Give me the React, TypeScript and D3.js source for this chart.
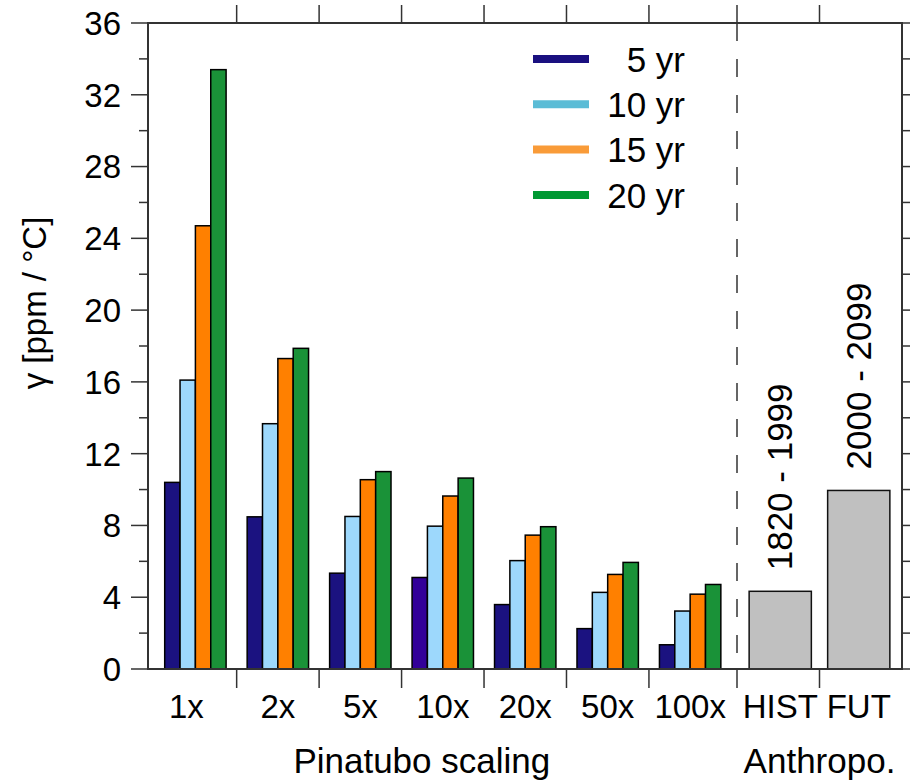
import * as d3 from "d3";
import { useEffect, useRef } from "react";

const groups = ["1x", "2x", "5x", "10x", "20x", "50x", "100x"];
const seriesKeys = ["yr5", "yr10", "yr15", "yr20"];
const seriesLabels = ["5 yr", "10 yr", "15 yr", "20 yr"];
const yr5 = [10.4, 8.48, 5.34, 5.1, 3.59, 2.25, 1.35];
const yr10 = [16.1, 13.67, 8.5, 7.96, 6.04, 4.27, 3.23];
const yr15 = [24.7, 17.3, 10.55, 9.64, 7.46, 5.27, 4.17];
const yr20 = [33.4, 17.87, 11.0, 10.64, 7.93, 5.94, 4.71];
const anthroCats = ["HIST", "FUT"];
const anthroValues = [4.33, 9.95];
const anthroPeriods = ["1820 - 1999", "2000 - 2099"];
const yTicks = [0, 4, 8, 12, 16, 20, 24, 28, 32, 36];

const barColors = ["#1b1280", "#9dd8fc", "#ff8000", "#1a9238"];
const legendColors = ["#1a1080", "#5bbcd6", "#f99b38", "#009933"];

function App() {
  const svgRef = useRef(null);

  useEffect(() => {
    const svg = d3.select(svgRef.current);
    svg.selectAll("*").remove();

    const font = "'Liberation Sans', Arial, sans-serif";
    const left = 148, right = 902, top = 23, bottom = 669, sep = 737;
    const axisColor = "#333";

    const y = d3.scaleLinear().domain([0, 36]).range([bottom, top]);
    const x0 = d3.scaleBand().domain(groups).range([154.2, 731.4]);
    const x1 = d3.scaleBand().domain(seriesKeys).range([10.5, 71.9]);
    const xa = d3.scaleBand().domain(anthroCats).range([sep, right])
      .paddingInner(0.2075).paddingOuter(0.1546);

    const series = [yr5, yr10, yr15, yr20];

    // pinatubo bars
    series.forEach((vals, si) => {
      svg.append("g").selectAll("rect")
        .data(vals)
        .join("rect")
        .attr("x", (d, i) => x0(groups[i]) + x1(seriesKeys[si]))
        .attr("y", d => y(d))
        .attr("width", x1.bandwidth())
        .attr("height", d => y(0) - y(d))
        .attr("fill", (d, i) => (si === 0 && groups[i] === "10x") ? "#330099" : barColors[si])
        .attr("stroke", "#000")
        .attr("stroke-width", 1.5);
    });

    // anthropogenic bars
    svg.append("g").selectAll("rect")
      .data(anthroValues)
      .join("rect")
      .attr("x", (d, i) => xa(anthroCats[i]))
      .attr("y", d => y(d))
      .attr("width", xa.bandwidth())
      .attr("height", d => y(0) - y(d))
      .attr("fill", "#c0c0c0")
      .attr("stroke", "#111")
      .attr("stroke-width", 1.5);

    svg.append("g").selectAll("text")
      .data(anthroValues)
      .join("text")
      .attr("transform", (d, i) =>
        `translate(${xa(anthroCats[i]) + xa.bandwidth() / 2 + 12},${y(d) - 21}) rotate(-90)`)
      .attr("font-family", font)
      .attr("font-size", 35)
      .text((d, i) => anthroPeriods[i]);

    // dashed separator
    svg.append("line")
      .attr("x1", sep).attr("x2", sep)
      .attr("y1", top).attr("y2", bottom)
      .attr("stroke", axisColor)
      .attr("stroke-width", 1.5)
      .attr("stroke-dasharray", "18,18");

    // frame
    svg.append("rect")
      .attr("x", left).attr("y", top)
      .attr("width", right - left).attr("height", bottom - top)
      .attr("fill", "none")
      .attr("stroke", axisColor)
      .attr("stroke-width", 2);

    // y ticks, left and right
    const allY = d3.range(0, 37, 2);
    svg.append("g").selectAll("line")
      .data(allY)
      .join("line")
      .attr("x1", d => left - (d % 4 === 0 ? 17 : 9))
      .attr("x2", left)
      .attr("y1", d => y(d)).attr("y2", d => y(d))
      .attr("stroke", axisColor).attr("stroke-width", 1.5);
    svg.append("g").selectAll("line")
      .data(allY)
      .join("line")
      .attr("x1", right)
      .attr("x2", right + 10)
      .attr("y1", d => y(d)).attr("y2", d => y(d))
      .attr("stroke", axisColor).attr("stroke-width", 1.5);

    svg.append("g").selectAll("text")
      .data(yTicks)
      .join("text")
      .attr("x", 121)
      .attr("y", d => y(d))
      .attr("dy", "0.36em")
      .attr("text-anchor", "end")
      .attr("font-family", font)
      .attr("font-size", 33)
      .text(d => d);

    // x ticks (category boundaries), top and bottom
    const xBounds = groups.slice(1).map(g => x0(g))
      .concat([sep, xa("FUT") - xa.step() * xa.paddingInner() / 2]);
    svg.append("g").selectAll("line")
      .data(xBounds)
      .join("line")
      .attr("x1", d => d).attr("x2", d => d)
      .attr("y1", top - 18).attr("y2", top)
      .attr("stroke", axisColor).attr("stroke-width", 1.5);
    svg.append("g").selectAll("line")
      .data(xBounds)
      .join("line")
      .attr("x1", d => d).attr("x2", d => d)
      .attr("y1", bottom).attr("y2", bottom + 19)
      .attr("stroke", axisColor).attr("stroke-width", 1.5);

    // x labels
    svg.append("g").selectAll("text")
      .data(groups)
      .join("text")
      .attr("x", d => x0(d) + x0.bandwidth() / 2 - (d === "1x" ? 9 : 0))
      .attr("y", 718)
      .attr("text-anchor", "middle")
      .attr("font-family", font)
      .attr("font-size", 33)
      .text(d => d);
    svg.append("g").selectAll("text")
      .data(anthroCats)
      .join("text")
      .attr("x", d => xa(d) + xa.bandwidth() / 2)
      .attr("y", 718)
      .attr("text-anchor", "middle")
      .attr("font-family", font)
      .attr("font-size", 33)
      .text(d => d);

    svg.append("text")
      .attr("x", x0("10x") + x0.bandwidth() / 2 - 21)
      .attr("y", 773)
      .attr("text-anchor", "middle")
      .attr("font-family", font)
      .attr("font-size", 35)
      .text("Pinatubo scaling");
    svg.append("text")
      .attr("x", (sep + right) / 2)
      .attr("y", 773)
      .attr("text-anchor", "middle")
      .attr("font-family", font)
      .attr("font-size", 35)
      .text("Anthropo.");

    svg.append("text")
      .attr("transform", "translate(46,303) rotate(-90)")
      .attr("text-anchor", "middle")
      .attr("font-family", font)
      .attr("font-size", 33)
      .text("γ [ppm / °C]");

    // legend
    const leg = svg.append("g");
    seriesLabels.forEach((lab, i) => {
      const ly = 59 + i * 45.3;
      leg.append("line")
        .attr("x1", 533).attr("x2", 589)
        .attr("y1", ly).attr("y2", ly)
        .attr("stroke", legendColors[i])
        .attr("stroke-width", 8);
      leg.append("text")
        .attr("x", 685)
        .attr("y", ly)
        .attr("dy", "0.36em")
        .attr("text-anchor", "end")
        .attr("font-family", font)
        .attr("font-size", 35)
        .text(lab);
    });
  }, []);

  return (
    <svg ref={svgRef} width={910} height={780}
      style={{ position: "absolute", left: 0, top: 0, background: "#fff" }}>
    </svg>
  );
}

export default App;
